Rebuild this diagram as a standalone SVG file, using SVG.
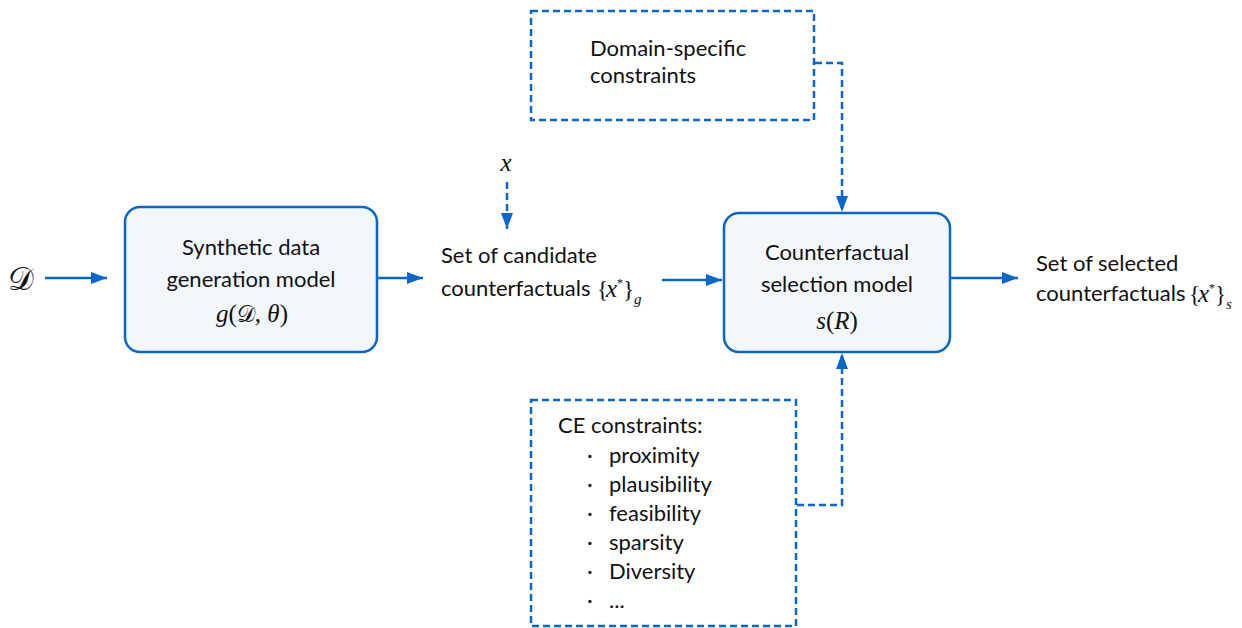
<svg xmlns="http://www.w3.org/2000/svg" width="1242" height="628" viewBox="0 0 1242 628">
<defs>
<marker id="ahd" viewBox="0 0 16 12" refX="16" refY="6" markerWidth="16" markerHeight="12" markerUnits="userSpaceOnUse" orient="auto"><path d="M0,0 L16,6 L0,12 z" fill="#0a66c8"/></marker>
<style>
.box{fill:#f3f7fc;stroke:#0a66c8;stroke-width:2.5}
.dbox{fill:none;stroke:#0a66c8;stroke-width:2.5;stroke-dasharray:7 4}
.c{fill:none;stroke:#0a66c8;stroke-width:2.5}
.cd{fill:none;stroke:#0a66c8;stroke-width:2.5;stroke-dasharray:7 4}
.t{font-family:Lato,"Noto Sans",sans-serif;font-size:22px;fill:#111}
.m{font-family:"Liberation Serif","DejaVu Serif",serif;font-size:25px;fill:#111;font-style:italic}
.mn{font-family:"Liberation Serif","DejaVu Serif",serif;font-size:25px;fill:#111}
.br{font-family:"Liberation Serif",serif;font-size:23px;fill:#111}
.mx{font-family:"Liberation Serif",serif;font-size:25px;font-style:italic;fill:#111}
.st{font-family:"Liberation Serif",serif;font-size:12px;fill:#111}
.sb{font-family:"Liberation Serif",serif;font-size:15px;font-style:italic;fill:#111}
</style>
</defs>
<g id="connectors">
<line class="c" x1="45" y1="278" x2="107" y2="278" marker-end="url(#ahd)"/>
<line class="c" x1="378" y1="278" x2="423" y2="278" marker-end="url(#ahd)"/>
<line class="c" x1="662" y1="280" x2="722" y2="280" marker-end="url(#ahd)"/>
<line class="c" x1="951" y1="278" x2="1018" y2="278" marker-end="url(#ahd)"/>
<line class="cd" x1="507" y1="182" x2="507" y2="229" marker-end="url(#ahd)"/>
<polyline class="cd" points="815,63 842,63 842,212" marker-end="url(#ahd)"/>
<polyline class="cd" points="797,505 842,505 842,353" marker-end="url(#ahd)"/>
</g>
<g id="D"><text x="8" y="290" style="font-family:'DejaVu Serif',serif;font-size:32px;font-style:normal;fill:#111">𝒟</text></g>
<g id="gen">
<rect class="box" x="125" y="207" width="252" height="145" rx="15"/>
<text class="t" x="251" y="255" text-anchor="middle">Synthetic data</text>
<text class="t" x="251" y="287" text-anchor="middle">generation model</text>
<text class="mn" x="252" y="322" text-anchor="middle"><tspan font-style="italic">g</tspan>(<tspan font-family="DejaVu Serif" font-size="23">𝒟</tspan>, <tspan font-style="italic">θ</tspan>)</text>
</g>
<g id="xin"><text class="m" x="506" y="171" text-anchor="middle">x</text></g>
<g id="cand">
<text class="t" x="441" y="263">Set of candidate</text>
<text class="t" x="441" y="296">counterfactuals</text>
<text class="br" x="597" y="297">{</text>
<text class="mx" x="606" y="297">x</text>
<text class="st" x="617" y="287">*</text>
<text class="br" x="623" y="297">}</text>
<text class="sb" x="634" y="304">g</text>
</g>
<g id="sel">
<rect class="box" x="724" y="213" width="226" height="139" rx="15"/>
<text class="t" x="837" y="260" text-anchor="middle">Counterfactual</text>
<text class="t" x="837" y="292" text-anchor="middle">selection model</text>
<text class="mn" x="837" y="329" text-anchor="middle"><tspan font-style="italic">s</tspan>(<tspan font-style="italic">R</tspan>)</text>
</g>
<g id="out">
<text class="t" x="1036" y="271">Set of selected</text>
<text class="t" x="1036" y="301">counterfactuals</text>
<text class="br" x="1189" y="302">{</text>
<text class="mx" x="1198" y="302">x</text>
<text class="st" x="1209" y="292">*</text>
<text class="br" x="1215" y="302">}</text>
<text class="sb" x="1226" y="309">s</text>
</g>
<g id="domain">
<rect class="dbox" x="531" y="11" width="283" height="109"/>
<text class="t" x="590" y="56">Domain-specific</text>
<text class="t" x="590" y="83">constraints</text>
</g>
<g id="ce">
<rect class="dbox" x="531" y="400" width="265" height="226"/>
<text class="t" x="558" y="433">CE constraints:</text>
<g class="t">
<text x="587" y="463">·</text><text x="609" y="463">proximity</text>
<text x="587" y="492">·</text><text x="609" y="492">plausibility</text>
<text x="587" y="521">·</text><text x="609" y="521">feasibility</text>
<text x="587" y="550">·</text><text x="609" y="550">sparsity</text>
<text x="587" y="579">·</text><text x="609" y="579">Diversity</text>
<text x="587" y="608">·</text><text x="609" y="608">...</text>
</g>
</g>
</svg>
